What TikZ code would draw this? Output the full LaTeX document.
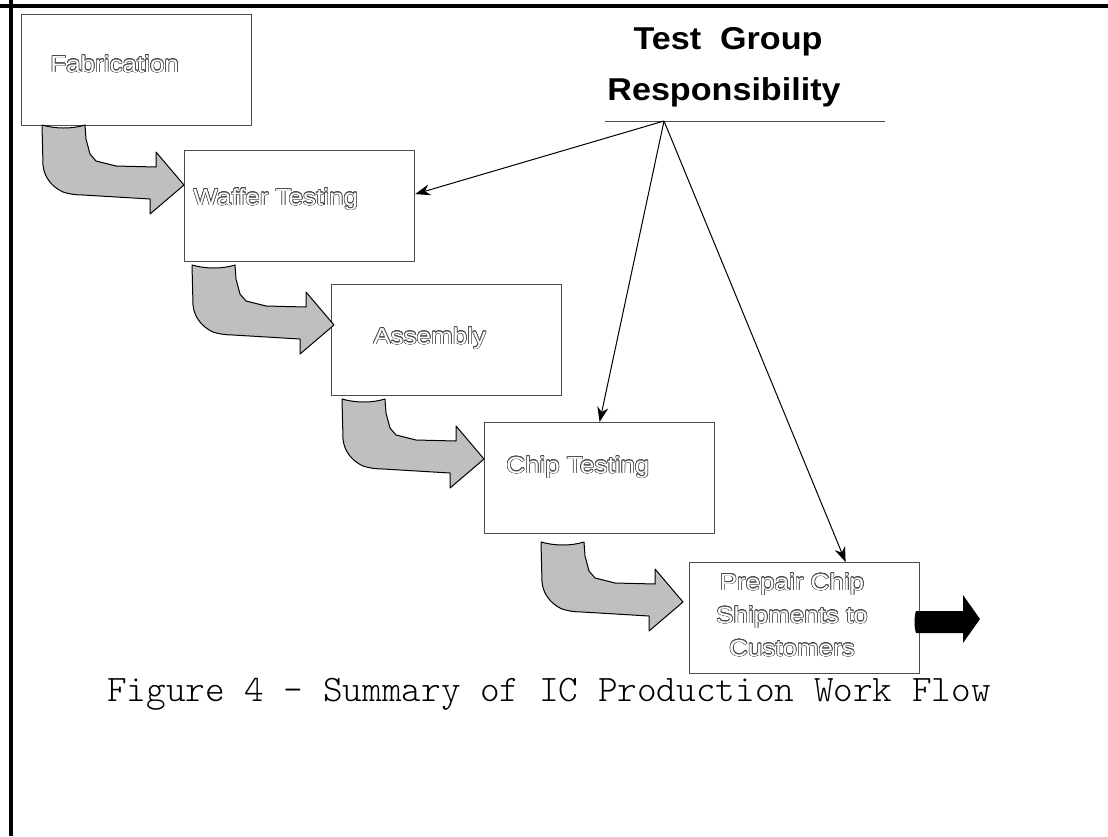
\documentclass[tikz,border=0pt]{standalone}
\usepackage{fontspec}
\setmainfont{Liberation Sans}
\newfontfamily\boxfont[FakeStretch=1.12]{Liberation Sans}
\newfontfamily\titlefont[FakeStretch=1.08]{Liberation Sans}
\newfontfamily\capfont{Latin Modern Mono Light}
\usepackage{contour}
\contourlength{0.3pt}
\usetikzlibrary{arrows.meta,calc}
\newcommand{\hollow}[1]{\contour{black!70}{\textcolor{white}{#1}}}
\tikzset{
  pics/turnarrow/.style={code={
    \draw[bendfill] (0,0) .. controls (14,4) and (30,4) .. (43,0) -- (44,14) -- (48,29) -- (54,36) -- (74,41)
      -- (114,42) -- (114,27) -- (142,60) -- (108,89) -- (108,74) -- (41,70)
      .. controls (34,70) and (27,69) .. (21,67) .. controls (10,62) and (2,52) .. (1,40) -- cycle;
  }}
}
\begin{document}
\begin{tikzpicture}[x=0.5pt, y=-0.5pt,
    box/.style={rectangle, draw=black!70, line width=0.6pt, fill=white, inner sep=0pt,
      minimum width=115pt, minimum height=55.5pt, anchor=north west},
    lbl/.style={anchor=base west, inner sep=0pt, font=\boxfont\fontsize{11.6}{16.5}\selectfont},
    ttl/.style={anchor=base, inner sep=0pt, font=\titlefont\bfseries\fontsize{15.8}{20}\selectfont},
    ptr/.style={line width=0.5pt, -{Stealth[length=7.5pt,width=5.5pt]}},
    bendfill/.style={fill=black!25, draw=black, line width=0.5pt, line join=round},
    pageedge/.style={line width=2pt}
]
\useasboundingbox (0,0) rectangle (1108,836);

% Page edge
\draw[pageedge] (0,5.7) -- (1108,5.7);
\draw[pageedge] (11,0) -- (11,836);

% Work flow boxes
\node[box] (fab) at (21,14) {};
\node[box] (waf) at (184,150) {};
\node[box] (asm) at (331,284) {};
\node[box] (chip) at (484,422) {};
\node[box] (prep) at (689,562) {};

% Box labels
\node[lbl] (fabtxt) at (50,72) {\hollow{Fabrication}};
\node[lbl] (waftxt) at (193,205) {\hollow{Waffer Testing}};
\node[lbl] (asmtxt) at (373,344) {\hollow{Assembly}};
\node[lbl] (chiptxt) at (506,473) {\hollow{Chip Testing}};
\node[lbl, anchor=north, align=center] (preptxt) at (792,573)
  {\hollow{Prepair Chip}\\\hollow{Shipments to}\\\hollow{Customers}};

% Turning arrows between steps
\pic at (42,125) {turnarrow};
\pic at (192,265) {turnarrow};
\pic at (342,399) {turnarrow};
\pic at (541,542) {turnarrow};

% Shipment out
\fill (916,611) .. controls (914,616) and (914,628) .. (916,633) -- (963,633) -- (963,643)
  -- (980,619) -- (963,595) -- (963,611) -- cycle;

% Test group
\node[ttl] (ttl1) at (728,49) {Test\hspace{0.3em} Group};
\node[ttl] (ttl2) at (724,100) {Responsibility};
\draw[line width=0.5pt, black!70] (605,121) -- (885,121);
\coordinate (hub) at (664,121);

\draw[ptr] (hub) -- ($(waf.east)+(0,-12)$);
\draw[ptr] (hub) -- (chip.north);
\draw[ptr] (hub) -- ($(prep.north)+(41,0)$);

% Caption
\node[anchor=base, inner sep=0pt, font=\capfont\fontsize{18.7}{20}\selectfont] (cap) at (549,701)
  {Figure 4 - Summary of IC Production Work Flow};
\end{tikzpicture}
\end{document}
